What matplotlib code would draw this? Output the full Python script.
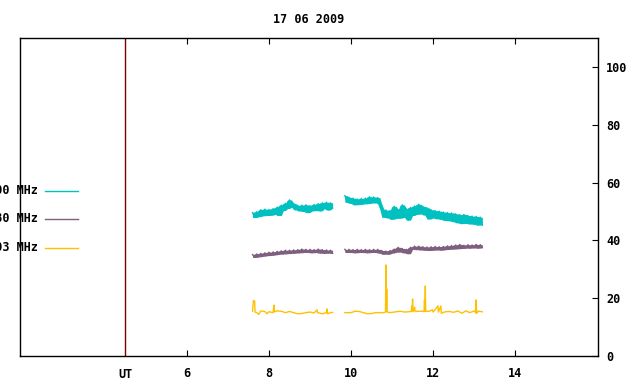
import numpy as np
import matplotlib
matplotlib.use("Agg")
import matplotlib.pyplot as plt

# gnuplot-style daily radio flux plot
title = "17 06 2009"
names = ["2800 MHz", "1380 MHz", "1003 MHz"]
colors = ["#00c0c0", "#7f5f7f", "#ffc000"]

# series 1 (cyan) - two segments, 0.05 h sampling
seg_start = [7.60, 9.85]
cyan_a = [49.6, 47.9, 49.9, 48.2, 50.6, 48.5, 50.8, 48.6,
          50.7, 48.7, 51.0, 49.0, 51.5, 48.6, 52.2, 50.3, 52.8, 51.0, 54.0, 51.5,
          52.8, 50.6, 52.1, 50.2, 52.2, 50.0, 52.3, 49.6,
          52.0, 50.2, 52.4, 50.3, 52.7, 50.2, 53.0, 51.0, 53.2, 50.5, 53.0, 51.2]
cyan_b = [55.5, 53.2, 54.9,
          52.8, 54.6, 52.3, 54.3, 52.4, 54.5, 52.6, 54.6, 52.7, 55.1, 52.9, 55.0, 53.0,
          54.8, 52.6, 50.8, 48.0, 50.5, 47.8, 50.3,
          47.3, 51.8, 47.6, 50.6, 47.7, 52.3, 48.0, 50.9, 47.0, 51.4, 48.6, 51.9, 49.0,
          52.5, 49.2, 51.8, 48.8, 51.3, 47.4, 50.6,
          47.8, 50.3, 47.5, 50.1, 47.3, 49.8, 46.9, 49.6, 46.8, 49.5, 46.5, 49.2, 46.1,
          48.9, 45.8, 49.0, 45.9, 48.6, 45.7, 48.4,
          45.6, 48.3, 45.3, 48.0, 45.3]

# series 2 (purple)
purple_a = [35.1, 34.1, 35.3, 34.3, 35.5, 34.5, 35.7, 34.7,
            35.9, 34.8, 36.0, 35.0, 36.2, 35.2, 36.4, 35.3, 36.6, 35.4, 36.6, 35.5,
            36.7, 35.6, 36.8, 35.7, 37.0, 35.8, 36.9, 35.8,
            36.9, 35.7, 36.8, 35.8, 37.0, 35.6, 36.8, 35.5, 36.7, 35.6, 36.6, 35.5]
purple_b = [36.9, 35.8, 36.9,
            35.8, 36.8, 35.7, 36.9, 35.8, 36.8, 35.8, 36.9, 35.7, 36.8, 35.8, 36.9, 35.8,
            36.9, 35.6, 36.5, 35.2, 36.3, 35.2, 36.5,
            35.6, 37.0, 35.9, 37.6, 36.0, 37.2, 35.7, 36.9, 35.4, 37.6, 36.9, 38.0, 36.8,
            38.0, 36.7, 37.8, 36.6, 37.7, 36.5, 37.8,
            36.6, 37.9, 36.7, 37.8, 36.6, 37.9, 36.8, 38.1, 36.9, 38.2, 37.0, 38.4, 37.1,
            38.6, 37.2, 38.3, 37.3, 38.5, 37.3, 38.4,
            37.4, 38.6, 37.3, 38.5, 37.5]

# series 3 (orange) - irregular times so spikes sit where they are
orange_ta = [7.60, 7.62, 7.65, 7.66, 7.70, 7.75, 7.80, 7.90, 7.95, 8.00, 8.10, 8.12,
             8.13, 8.20, 8.30, 8.40, 8.50, 8.60, 8.70, 8.80, 8.90, 9.00, 9.10, 9.17,
             9.18, 9.30, 9.40, 9.41, 9.43, 9.50, 9.55]
orange_a = [15.5, 19.2, 19.0, 15.2, 15.0, 14.4, 15.6, 15.4, 14.6, 15.3, 15.0, 17.6,
            15.3, 15.6, 15.5, 15.0, 15.4, 15.0, 14.6, 14.7, 15.0, 15.2, 14.9, 16.0,
            15.0, 14.6, 15.0, 16.3, 14.6, 15.0, 15.1]
orange_tb = [9.85, 10.00, 10.10, 10.20, 10.30, 10.40, 10.50, 10.60, 10.70, 10.80,
             10.84, 10.85, 10.86, 10.87, 10.88, 10.95, 11.10, 11.20, 11.30, 11.40,
             11.47, 11.48, 11.49, 11.50, 11.51, 11.55, 11.56, 11.70, 11.78, 11.79,
             11.80, 11.81, 11.82, 11.90, 11.98, 12.00, 12.12, 12.13, 12.19, 12.20,
             12.30, 12.40, 12.50, 12.60, 12.70, 12.80, 12.90, 13.00, 13.04, 13.05,
             13.06, 13.10, 13.20]
orange_b = [15.0, 15.0, 15.5, 15.4, 15.0, 14.6, 14.7, 15.0, 15.0, 15.0,
            15.2, 31.5, 15.5, 23.2, 15.2, 15.0, 15.3, 15.5, 15.2, 15.3,
            15.4, 17.3, 15.4, 19.7, 15.3, 16.9, 15.4, 15.5, 15.4, 19.4,
            15.6, 24.2, 15.5, 15.4, 16.0, 15.2, 17.3, 15.2, 17.3, 14.8,
            15.3, 15.4, 15.1, 15.6, 14.8, 15.6, 15.0, 15.6, 15.0, 19.4,
            14.7, 15.5, 15.3]

dt = 0.05
ut_mark = 4.5
xticks = [6, 8, 10, 12, 14]
yticks = [0, 20, 40, 60, 80, 100]

font = dict(family="DejaVu Sans Mono", weight="bold", size=8.5)

fig = plt.figure(figsize=(6.4, 3.84), dpi=100)
ax = fig.add_axes([20 / 640, 1 - 356 / 384, 578 / 640, 318 / 384])


def band(start, vals, color):
    """Noisy 1 s data drawn by gnuplot looks like a solid band: line + envelope fill."""
    v = np.asarray(vals)
    t = start + dt * np.arange(len(v))
    prev = np.r_[v[0], v[:-1]]
    nxt = np.r_[v[1:], v[-1]]
    lo = np.minimum(np.minimum(prev, v), nxt)
    hi = np.maximum(np.maximum(prev, v), nxt)
    ax.fill_between(t, lo, hi, color=color, lw=0)
    ax.plot(t, v, color=color, lw=1.0)


band(seg_start[0], cyan_a, colors[0])
band(seg_start[1], cyan_b, colors[0])
band(seg_start[0], purple_a, colors[1])
band(seg_start[1], purple_b, colors[1])
ax.plot(orange_ta, orange_a, color=colors[2], lw=1.0)
ax.plot(orange_tb, orange_b, color=colors[2], lw=1.0)

ax.axvline(ut_mark, color="#7f0000", lw=1.0)

ax.set_xlim(1.93, 16.02)
ax.set_ylim(0, 110)

# hand-made key at left, partly off the figure like the original
key_y = [57.1, 47.4, 37.4]
for name, c, ky in zip(names, colors, key_y):
    ax.plot([2.54, 3.34], [ky, ky], color=c, lw=1.0)
    ax.text(2.37, ky, name, ha="right", va="center", clip_on=False, **font)

ax.set_xticks(xticks)
ax.set_xticklabels([str(v) for v in xticks], **font)
ax.tick_params(axis="x", direction="in", top=True, bottom=True, length=4, pad=8)
ax.text(ut_mark, -4.2, "UT", ha="center", va="top", **font)

ax.yaxis.tick_right()
ax.set_yticks(yticks)
ax.set_yticklabels([str(v) for v in yticks], **font)
ax.tick_params(axis="y", direction="in", left=False, right=True, length=4, pad=6)

for s in ax.spines.values():
    s.set_color("black")
    s.set_linewidth(1.0)

ax.set_title(title, pad=11, **font)

fig.savefig("out.png", dpi=100)
